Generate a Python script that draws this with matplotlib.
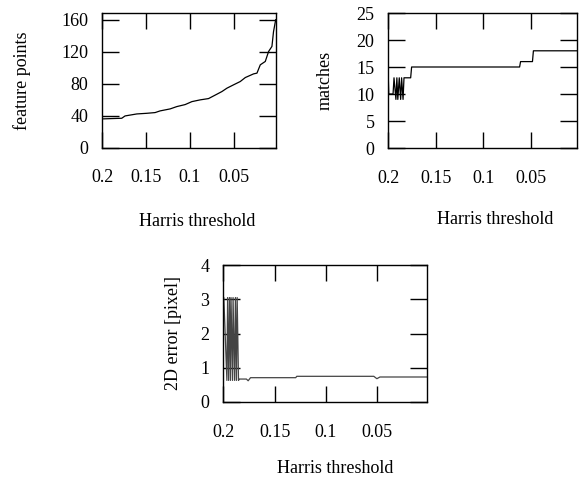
import matplotlib
matplotlib.use("Agg")
import matplotlib.pyplot as plt

plt.rcParams['font.family'] = ['Liberation Serif', 'DejaVu Serif']
plt.rcParams['font.size'] = 13

# ---- data ----
xticks = [0.2, 0.15, 0.1, 0.05]
xtick_labels = ["0.2", "0.15", "0.1", "0.05"]

feat_x = [0.200, 0.1778, 0.174, 0.1606, 0.1492, 0.1397, 0.134, 0.1225, 0.1149,
          0.1054, 0.0977, 0.0882, 0.0787, 0.0691, 0.0634, 0.0577, 0.0501, 0.0425,
          0.0367, 0.0272, 0.0234, 0.0196, 0.0139, 0.0101, 0.0063, 0.0045, 0.002]
feat_y = [36, 36.8, 39.7, 42.2, 43, 43.9, 46, 48.5, 51.4,
          53.9, 57.6, 59.8, 61.4, 66.9, 70.2, 74.4, 78.6, 82.7,
          87.7, 92.3, 93.2, 103.6, 107.8, 120.3, 126.6, 145, 160]
feat_yticks = [0, 40, 80, 120, 160]

match_x = [0.200, 0.1995, 0.1950, 0.1940, 0.1920, 0.1910, 0.1900, 0.1885, 0.1870,
           0.1860, 0.1845, 0.1835, 0.1765, 0.1755, 0.0620, 0.0610, 0.0485, 0.0475, 0.002]
match_y = [13, 10, 10, 13, 9, 13, 9, 13, 9,
           13, 9, 13, 13, 15, 15, 16, 16, 18, 18]
match_yticks = [0, 5, 10, 15, 20, 25]

err_x = [0.200, 0.1995, 0.1965, 0.1958, 0.1948, 0.1940, 0.1930, 0.1925, 0.1910,
         0.1905, 0.1890, 0.1882, 0.1872, 0.1865, 0.1852, 0.1845, 0.1775, 0.1758,
         0.1735, 0.1295, 0.1285, 0.0535, 0.0505, 0.0475, 0.002]
err_y = [3.05, 3.05, 0.63, 3.05, 0.63, 3.05, 0.63, 3.05, 0.63,
         3.05, 0.63, 3.05, 0.63, 3.05, 0.63, 0.67, 0.67, 0.62,
         0.71, 0.71, 0.75, 0.75, 0.68, 0.73, 0.73]
err_yticks = [0, 1, 2, 3, 4]

W, H = 581, 483
fig = plt.figure(figsize=(W / 100, H / 100), dpi=100)


def make_ax(l, r, t, b):
    return fig.add_axes([l / W, 1 - b / H, (r - l) / W, (b - t) / H])


def style(ax, ylim, yticks, ylabel, ylab_xy, xlab_xy):
    ax.set_xlim(0.2, 0.002)
    ax.set_ylim(*ylim)
    ax.set_xticks(xticks)
    ax.set_xticklabels(xtick_labels)
    ax.set_yticks(yticks)
    ax.set_yticklabels([str(v) for v in yticks])
    ax.tick_params(axis='both', direction='in', top=True, right=True,
                   width=1.0, color='black', labelsize=13)
    ax.tick_params(axis='y', length=12, pad=10)
    ax.tick_params(axis='x', length=11.5, pad=15.5)
    for s in ax.spines.values():
        s.set_linewidth(1.0)
    fig.text(ylab_xy[0] / W, 1 - ylab_xy[1] / H, ylabel, rotation=90,
             ha='center', va='center', fontsize=13)
    fig.text(xlab_xy[0] / W, 1 - xlab_xy[1] / H, "Harris threshold",
             ha='center', va='center', fontsize=13)


ax1 = make_ax(102.3, 275.7, 13.3, 147.7)
ax1.plot(feat_x, feat_y, color='black', lw=0.9)
style(ax1, (0, 168), feat_yticks, "feature points", (21.7, 80.5), (196.7, 221.7))

ax2 = make_ax(388.3, 576.7, 13, 148)
ax2.plot(match_x, match_y, color='black', lw=0.9)
style(ax2, (0, 25), match_yticks, "matches", (325, 80.5), (495, 220))

ax3 = make_ax(223.3, 426.7, 265, 402)
ax3.plot(err_x, err_y, color='#444444', lw=0.9)
style(ax3, (0, 4), err_yticks, "2D error [pixel]", (173.3, 333.5), (335, 468.3))

fig.savefig("out.png", dpi=100)
